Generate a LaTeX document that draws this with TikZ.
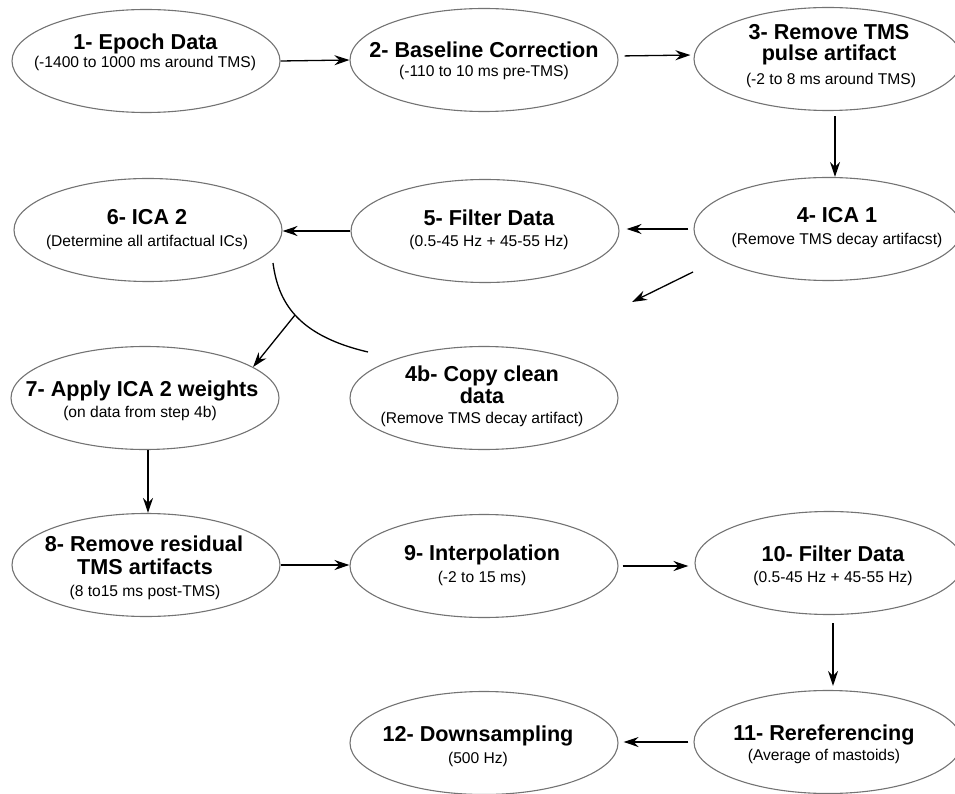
\documentclass[tikz,border=0pt]{standalone}
\usepackage{fontspec}
\setmainfont{Liberation Sans}
\usetikzlibrary{shapes.geometric, arrows.meta}
\begin{document}
\begin{tikzpicture}[x=1pt,y=-1pt,
  ell/.style={draw=black!55, line width=1.1pt, ellipse, minimum width=268pt, minimum height=103pt, inner sep=0pt},
  ttl/.style={anchor=base, inner sep=0pt, font=\fontsize{21.6}{24}\selectfont\bfseries},
  sub/.style={anchor=base, inner sep=0pt, font=\fontsize{15.6}{18}\selectfont},
  arr/.style={line width=1.3pt, -{Stealth[length=15pt,width=10pt,inset=5pt]}},
  con/.style={line width=1.3pt}]
\useasboundingbox (0,0) rectangle (955,794);
% ellipses
\node[ell] (e1) at (146,61) {};
\node[ell] (e2) at (484,60) {};
\node[ell] (e3) at (828,59) {};
\node[ell] (e4) at (828,229) {};
\node[ell] (e5) at (485,231) {};
\node[ell] (e6) at (148,230) {};
\node[ell] (e7) at (145,398) {};
\node[ell] (e4b) at (484,398) {};
\node[ell] (e8) at (146,565) {};
\node[ell] (e9) at (484,566) {};
\node[ell] (e10) at (829,563) {};
\node[ell] (e11) at (828,742) {};
\node[ell] (e12) at (484,743) {};
% texts
\node[ttl] (t1a) at (145.5,50) {1- Epoch Data};
\node[sub] (t1b) at (145,68) {(-1400 to 1000 ms around TMS)};
\node[ttl] (t2a) at (484,58) {2- Baseline Correction};
\node[sub] (t2b) at (484,77) {(-110 to 10 ms pre-TMS)};
\node[ttl] (t3a) at (829,40) {3- Remove TMS};
\node[ttl] (t3b) at (829,61) {pulse artifact};
\node[sub] (t3c) at (831,85) {(-2 to 8 ms around TMS)};
\node[ttl] (t4a) at (837,223) {4- ICA 1};
\node[sub] (t4b) at (837,245) {(Remove TMS decay artifacst)};
\node[ttl] (t5a) at (489,226) {5- Filter Data};
\node[sub] (t5b) at (489,247) {(0.5-45 Hz + 45-55 Hz)};
\node[ttl] (t6a) at (147,225) {6- ICA 2};
\node[sub] (t6b) at (147,247) {(Determine all artifactual ICs)};
\node[ttl] (t7a) at (142,396) {7- Apply ICA 2 weights};
\node[sub] (t7b) at (140,417) {(on data from step 4b)};
\node[ttl] (t4ba) at (482,381) {4b- Copy clean};
\node[ttl] (t4bb) at (482,403) {data};
\node[sub] (t4bc) at (482,423) {(Remove TMS decay artifact)};
\node[ttl] (t8a) at (144,551) {8- Remove residual};
\node[ttl] (t8b) at (145,574) {TMS artifacts};
\node[sub] (t8c) at (145,596) {(8 to15 ms post-TMS)};
\node[ttl] (t9a) at (482,560) {9- Interpolation};
\node[sub] (t9b) at (482,582) {(-2 to 15 ms)};
\node[ttl] (t10a) at (833,561) {10- Filter Data};
\node[sub] (t10b) at (833,582) {(0.5-45 Hz + 45-55 Hz)};
\node[ttl] (t11a) at (824,740) {11- Rereferencing};
\node[sub] (t11b) at (824,760) {(Average of mastoids)};
\node[ttl] (t12a) at (478,741) {12- Downsampling};
\node[sub] (t12b) at (478,763) {(500 Hz)};
% connectors
\draw[arr] (e1.east) -- (e2.west);
\draw[arr, shorten <=6pt, shorten >=3pt] ([yshift=4pt]e2.east) -- ([yshift=4pt]e3.west);
\draw[arr, shorten <=5pt] ([xshift=7pt]e3.south) -- ([xshift=7pt]e4.north);
\draw[arr, shorten <=5pt, shorten >=7pt] (e4.west) -- (e4.west -| e5.east);
\draw[arr] (e5.west) -- (e5.west -| e6.east);
\coordinate (f1) at (693,272);
\coordinate (f2) at (632,302);
\draw[arr] (f1) -- (f2);
\coordinate (cA) at (273,263);
\coordinate (cB) at (368,352);
\draw[con] (cA) .. controls (278,300) and (295,335) .. (cB) coordinate[pos=0.5] (j);
\draw[arr] (j) -- (e7.16);
\draw[arr] ([xshift=3pt]e7.south) -- ([xshift=3pt]e7.south |- e8.north);
\draw[arr] (e8.east) -- (e8.east -| e9.west);
\draw[arr, shorten <=4pt, shorten >=6pt] (e9.east) -- (e9.east -| e10.west);
\draw[arr, shorten <=8pt, shorten >=4pt] ([xshift=4pt]e10.south) -- ([xshift=4pt]e10.south |- e11.north);
\draw[arr, shorten <=5pt, shorten >=5pt] (e11.west) -- (e11.west -| e12.east);
\end{tikzpicture}
\end{document}
